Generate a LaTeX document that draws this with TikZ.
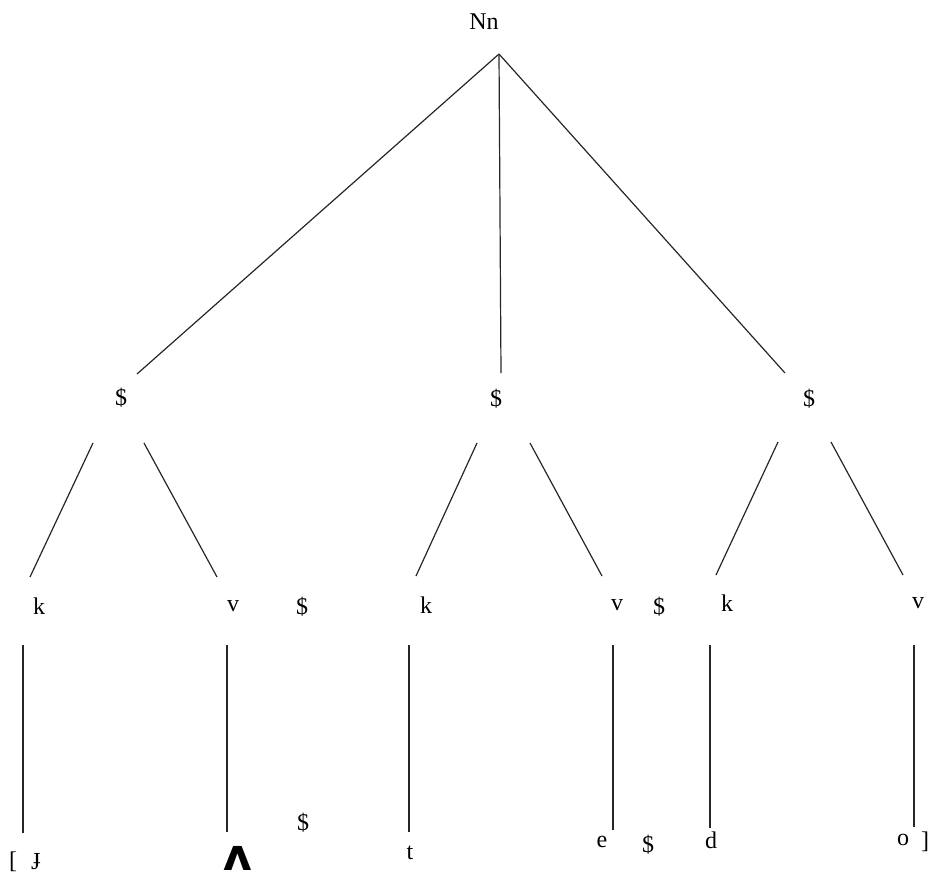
\documentclass[tikz,border=0pt]{standalone}
\usepackage{fontspec}
\setmainfont{Liberation Serif}
\newfontfamily\ipabold{DejaVu Sans Bold}
\begin{document}
\begin{tikzpicture}[x=1pt,y=-1pt,
  lbl/.style={inner sep=0pt,font=\fontsize{24}{24}\selectfont},
  edge/.style={line width=1.2pt,black!85}]
\useasboundingbox (0,0) rectangle (929,879);

% root and syllable nodes
\node[lbl] (root) at (484,22) {Nn};
\coordinate (apex) at (499,54);
\node[lbl] (s1) at (121,398) {\$};
\node[lbl] (s2) at (496,399) {\$};
\node[lbl] (s3) at (809,399) {\$};
\coordinate (s1in) at (137,374);
\coordinate (s2in) at (501,373);
\coordinate (s3in) at (785,373);
\draw[edge] (apex) -- (s1in);
\draw[edge] (apex) -- (s2in);
\draw[edge] (apex) -- (s3in);

% onset / nucleus row
\node[lbl] (k1) at (39,606) {k};
\node[lbl] (v1) at (233,606) {v};
\node[lbl] (b1) at (302,607) {\$};
\node[lbl] (k2) at (426,605) {k};
\node[lbl] (v2) at (617,605) {v};
\node[lbl] (b2) at (659,607) {\$};
\node[lbl] (k3) at (727,603) {k};
\node[lbl] (v3) at (918,603) {v};

% branches from each syllable
\coordinate (s1a) at (93,443);  \coordinate (k1a) at (30,577);
\coordinate (s1b) at (144,443); \coordinate (v1a) at (217,577);
\coordinate (s2a) at (477,443); \coordinate (k2a) at (416,576);
\coordinate (s2b) at (530,443); \coordinate (v2a) at (602,576);
\coordinate (s3a) at (778,442); \coordinate (k3a) at (716,575);
\coordinate (s3b) at (831,442); \coordinate (v3a) at (903,575);
\draw[edge] (s1a) -- (k1a);
\draw[edge] (s1b) -- (v1a);
\draw[edge] (s2a) -- (k2a);
\draw[edge] (s2b) -- (v2a);
\draw[edge] (s3a) -- (k3a);
\draw[edge] (s3b) -- (v3a);

% segment row
\node[lbl] (lbr) at (13,862) {[};
\node[lbl] (p1) at (37,862) {ɟ};
\node[inner sep=0pt,font=\ipabold\fontsize{44}{44}\selectfont] (p2) at (238,858) {ʌ};
\node[lbl] (b3) at (303,823) {\$};
\node[lbl] (p3) at (410,853) {t};
\node[lbl] (p4) at (602,842) {e};
\node[lbl] (b4) at (648,845) {\$};
\node[lbl] (p5) at (711,840) {d};
\node[lbl] (p6) at (903,840) {o};
\node[lbl] (rbr) at (925,842) {]};

% association lines
\coordinate (k1d) at (23,645);  \coordinate (p1u) at (23,833);
\coordinate (v1d) at (227,645); \coordinate (p2u) at (227,832);
\coordinate (k2d) at (409,645); \coordinate (p3u) at (409,832);
\coordinate (v2d) at (613,645); \coordinate (p4u) at (613,830);
\coordinate (k3d) at (710,645); \coordinate (p5u) at (710,828);
\coordinate (v3d) at (914,645); \coordinate (p6u) at (914,827);
\draw[edge] (k1d) -- (p1u);
\draw[edge] (v1d) -- (p2u);
\draw[edge] (k2d) -- (p3u);
\draw[edge] (v2d) -- (p4u);
\draw[edge] (k3d) -- (p5u);
\draw[edge] (v3d) -- (p6u);
\end{tikzpicture}
\end{document}
